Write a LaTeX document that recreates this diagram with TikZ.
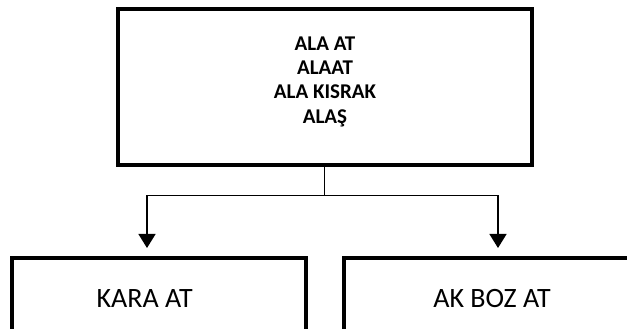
\documentclass[tikz,border=0pt]{standalone}
\usepackage{fontspec}
\setmainfont{Carlito}
\usetikzlibrary{positioning,arrows.meta}

\begin{document}
\begin{tikzpicture}[x=1pt,y=1pt,
    box/.style={draw,line width=4pt,inner sep=0pt},
    link/.style={line width=1.4pt},
    arr/.style={link,-{Triangle[length=14pt,width=17pt]},shorten >=8pt},
    toplbl/.style={font=\bfseries\fontsize{21}{24.3}\selectfont,align=center,anchor=base,inner sep=0pt},
    btmlbl/.style={font=\fontsize{28}{33}\selectfont,anchor=base,inner sep=0pt}]
  \useasboundingbox (0,0) rectangle (627,329);
  \clip (0,0) rectangle (627,329);
  \node[box,minimum width=414.5pt,minimum height=156pt] (top) at (324.75,241.7) {};
  \node[toplbl] (topname) at (325,205.7) {ALA AT\\ALAAT\\ALA KISRAK\\ALAŞ};
  \node[box,minimum width=294pt,minimum height=150pt] (kara) at (159,-4) {};
  \node[box,minimum width=316pt,minimum height=150pt] (akboz) at (502,-4) {};
  \node[btmlbl] (karaname) at (144.6,21.3) {KARA AT};
  \node[btmlbl] (akbozname) at (492,21.3) {AK BOZ AT};
  \coordinate (hl) at (147,133.3);
  \coordinate (hr) at (498,133.3);
  \draw[link] (top.south) -- (top.south |- hl);
  \draw[arr] (hr) -- (hl) -- (hl |- kara.north);
  \draw[arr] (hl) -- (hr) -- (hr |- akboz.north);
\end{tikzpicture}
\end{document}
